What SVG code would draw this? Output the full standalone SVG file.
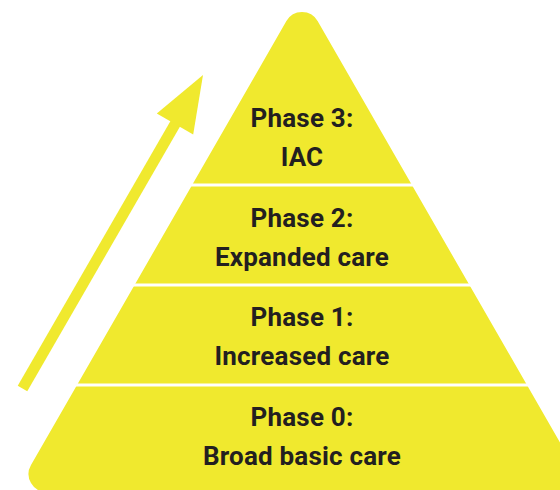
<svg xmlns="http://www.w3.org/2000/svg" width="560" height="490" viewBox="0 0 560 490">
  <style>
    .tier-fill { fill: #F0E92E; }
    .divider { stroke: #FFFFFF; stroke-width: 3; }
    .label { font-family: Roboto, "Liberation Sans", sans-serif; font-weight: 700; font-size: 26px; letter-spacing: 0.2px; fill: #231F20; text-anchor: middle; }
  </style>
  <rect width="560" height="490" fill="#FFFFFF"/>

  <!-- pyramid body with rounded apex and base corner -->
  <g id="pyramid">
    <path class="tier-fill" d="M 46.6 492 L 588.5 492 L 317.6 21.1 A 18 18 0 0 0 286.4 21.1 L 31 465 A 18 18 0 0 0 46.6 492 Z"/>
    <line class="divider" x1="180" y1="185" x2="430" y2="185"/>
    <line class="divider" x1="120" y1="285" x2="490" y2="285"/>
    <line class="divider" x1="60" y1="385" x2="560" y2="385"/>
  </g>

  <!-- rising arrow beside the pyramid -->
  <g id="arrow">
    <line x1="22.5" y1="388.5" x2="178" y2="119" stroke="#F0E92E" stroke-width="11"/>
    <polygon points="203,75 156.8,113.5 193.2,134.5" fill="#F0E92E"/>
  </g>

  <g id="phase-3">
    <text class="label" x="302" y="127">Phase 3:</text>
    <text class="label" x="302" y="166">IAC</text>
  </g>
  <g id="phase-2">
    <text class="label" x="302" y="227">Phase 2:</text>
    <text class="label" x="302" y="266">Expanded care</text>
  </g>
  <g id="phase-1">
    <text class="label" x="302" y="326">Phase 1:</text>
    <text class="label" x="302" y="365">Increased care</text>
  </g>
  <g id="phase-0">
    <text class="label" x="302" y="426">Phase 0:</text>
    <text class="label" x="302" y="465">Broad basic care</text>
  </g>
</svg>
